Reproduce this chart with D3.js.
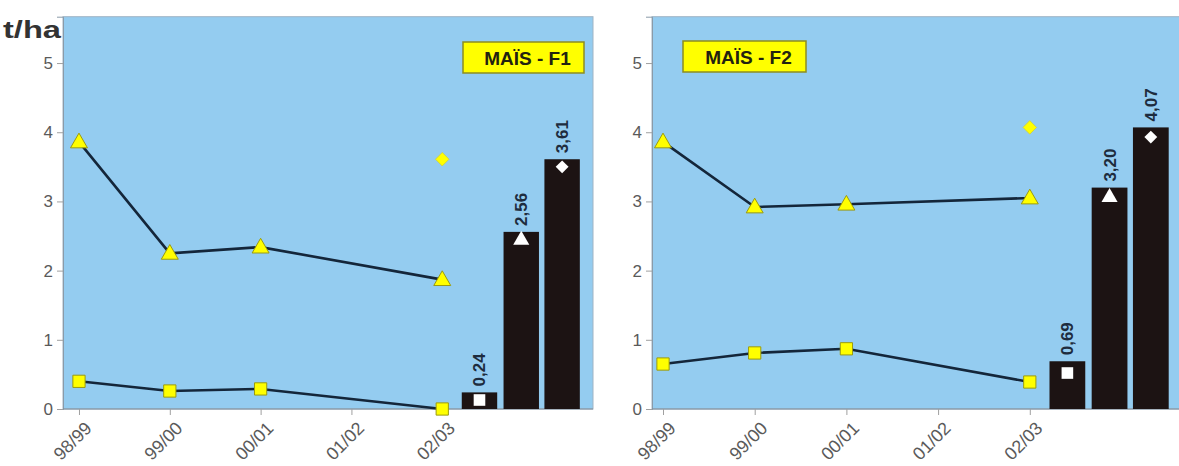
<!DOCTYPE html>
<html>
<head>
<meta charset="utf-8">
<script src="https://cdn.jsdelivr.net/npm/d3@7"></script>
<style>
  html, body { margin: 0; padding: 0; background: #ffffff; }
  svg { display: block; }
</style>
</head>
<body>
<svg id="chart" width="1179" height="466"></svg>
<script>
// ---------- DATA ----------
const seasons = ["98/99", "99/00", "00/01", "01/02", "02/03"];
const yTicks = [0, 1, 2, 3, 4, 5];
const unitLabel = "t/ha";
const panelTitles = ["MAÏS - F1", "MAÏS - F2"];

// triangle series (per season, null = missing)
const triF1 = [3.86, 2.25, 2.34, null, 1.87];
const triF2 = [3.86, 2.92, 2.96, null, 3.05];
// square series
const sqF1 = [0.40, 0.26, 0.29, null, 0.0];
const sqF2 = [0.65, 0.81, 0.87, null, 0.39];
// isolated diamond at 02/03
const diaF1 = 3.61;
const diaF2 = 4.07;
// bars (square / triangle / diamond groups)
const barsF1 = [0.24, 2.56, 3.61];
const barsF2 = [0.69, 3.20, 4.07];
const barLabelsF1 = ["0,24", "2,56", "3,61"];
const barLabelsF2 = ["0,69", "3,20", "4,07"];
// white markers drawn inside bars
const barMarkF1 = [0.13, 2.44, 3.50];
const barMarkF2 = [0.52, 3.06, 3.93];
const barShapes = ["square", "triangle", "diamond"];
// bar slot positions on the season axis (season index units)
const barSlots = [4.41, 4.87, 5.32];

// ---------- LAYOUT ----------
const svg = d3.select("#chart");
const plotTop = 16.7, plotBottom = 409;
const yMax = 5.67;
const panels = [
  { x0: 63,  x1: 593,  dStart: -0.176, tri: triF1, sq: sqF1, dia: diaF1, bars: barsF1, labels: barLabelsF1, marks: barMarkF1, title: panelTitles[0], box: [463, 42, 121, 31] },
  { x0: 652, x1: 1182, dStart: -0.12,  tri: triF2, sq: sqF2, dia: diaF2, bars: barsF2, labels: barLabelsF2, marks: barMarkF2, title: panelTitles[1], box: [683, 41, 123, 31] }
];

const bg = "#94CCF0";
const lineCol = "#14263a";
const yellow = "#FFFF00";
const yellowStroke = "#9a9a10";
const barCol = "#1c1313";
const tickText = "#5a5a5a";
const font = "Liberation Sans, Arial, sans-serif";

function sym(shape, k) {
  k = k || 1;
  if (shape === "square") return d3.symbol().type(d3.symbolSquare).size(150 * k)();
  if (shape === "triangle") return d3.symbol().type(d3.symbolTriangle).size(125 * k)();
  return d3.symbol().type(d3.symbolSquare).size(92 * k)(); // rotated later -> diamond
}
function rot(shape) { return shape === "diamond" ? " rotate(45)" : ""; }

const y = d3.scaleLinear().domain([0, yMax]).range([plotBottom, plotTop]);

panels.forEach((p) => {
  const x = d3.scaleLinear().domain([p.dStart, 5.66]).range([p.x0, p.x1]);
  const g = svg.append("g");

  // background
  g.append("rect")
    .attr("x", p.x0).attr("y", plotTop)
    .attr("width", p.x1 - p.x0).attr("height", plotBottom - plotTop)
    .attr("fill", bg).attr("stroke", "#9fb4c4").attr("stroke-width", 1);

  // y axis
  const yAxis = d3.axisLeft(y).tickValues(yTicks).tickSize(6).tickPadding(4).tickFormat(d3.format("d"));
  const ya = g.append("g").attr("transform", `translate(${p.x0},0)`).call(yAxis);
  ya.select(".domain").attr("stroke", "#8a9aa8");
  ya.selectAll(".tick line").attr("stroke", "#a0a0a0");
  ya.selectAll(".tick text").attr("fill", tickText).attr("font-family", font).attr("font-size", 17);

  // x axis
  const xAxis = d3.axisBottom(x).tickValues(d3.range(seasons.length)).tickSize(6).tickFormat(i => seasons[i]);
  const xa = g.append("g").attr("transform", `translate(0,${plotBottom})`).call(xAxis);
  xa.select(".domain").attr("stroke", "#7f8c99").attr("d", `M${p.x0},0H${p.x1}`);
  xa.selectAll(".tick line").attr("stroke", "#a0a0a0");
  xa.selectAll(".tick text")
    .attr("fill", tickText).attr("font-family", font).attr("font-size", 18)
    .attr("text-anchor", "end").attr("dy", 0)
    .attr("transform", "translate(7,14) rotate(-45)");

  // bars
  const bw = 0.39;
  const barData = p.bars.map((v, i) => ({ v, i, label: p.labels[i], mark: p.marks[i], shape: barShapes[i] }));
  g.selectAll(".bar").data(barData).enter().append("rect")
    .attr("x", d => x(barSlots[d.i] - bw / 2))
    .attr("width", d => x(barSlots[d.i] + bw / 2) - x(barSlots[d.i] - bw / 2))
    .attr("y", d => y(d.v))
    .attr("height", d => y(0) - y(d.v))
    .attr("fill", barCol);

  g.selectAll(".bmark").data(barData).enter().append("path")
    .attr("d", d => sym(d.shape, 0.9))
    .attr("transform", d => `translate(${x(barSlots[d.i])},${y(d.mark)})${rot(d.shape)}`)
    .attr("fill", "#ffffff");

  g.selectAll(".blabel").data(barData).enter().append("text")
    .attr("transform", d => `translate(${x(barSlots[d.i]) + 6},${y(d.v) - 6}) rotate(-90)`)
    .attr("font-family", font)
    .attr("font-weight", "bold").attr("font-size", 17)
    .attr("fill", "#1e2c3e")
    .text(d => d.label);

  // lines
  const line = d3.line().x(d => x(d.i)).y(d => y(d.v));
  [p.tri, p.sq].forEach((series, si) => {
    const pts = series.map((v, i) => ({ v, i })).filter(d => d.v !== null);
    g.append("path").datum(pts)
      .attr("d", line).attr("fill", "none")
      .attr("stroke", lineCol).attr("stroke-width", 2.6);
    const shape = si === 0 ? "triangle" : "square";
    g.selectAll(null).data(pts).enter().append("path")
      .attr("d", sym(shape))
      .attr("transform", d => `translate(${x(d.i)},${y(d.v) + (shape === "triangle" ? 1 : 0)})`)
      .attr("fill", yellow).attr("stroke", yellowStroke).attr("stroke-width", 1);
  });

  // isolated diamond
  g.append("path")
    .attr("d", sym("diamond"))
    .attr("transform", `translate(${x(4)},${y(p.dia)})${rot("diamond")}`)
    .attr("fill", yellow).attr("stroke", "#d0d040").attr("stroke-width", 0.8);

  // title box
  const [bx, by, bwid, bh] = p.box;
  g.append("rect").attr("x", bx).attr("y", by).attr("width", bwid).attr("height", bh)
    .attr("fill", yellow).attr("stroke", "#8c8c20").attr("stroke-width", 1.5);
  g.append("text")
    .attr("x", bx + bwid / 2 + 4).attr("y", by + bh / 2 + 7)
    .attr("text-anchor", "middle")
    .attr("font-family", font)
    .attr("font-weight", "bold").attr("font-size", 19)
    .attr("fill", "#222210")
    .text(p.title);
});

// unit label
svg.append("text")
  .attr("x", 3).attr("y", 38)
  .attr("font-family", font)
  .attr("font-weight", "bold").attr("font-size", 24)
  .attr("fill", "#333333")
  .attr("textLength", 58).attr("lengthAdjust", "spacingAndGlyphs")
  .text(unitLabel);
</script>
</body>
</html>
